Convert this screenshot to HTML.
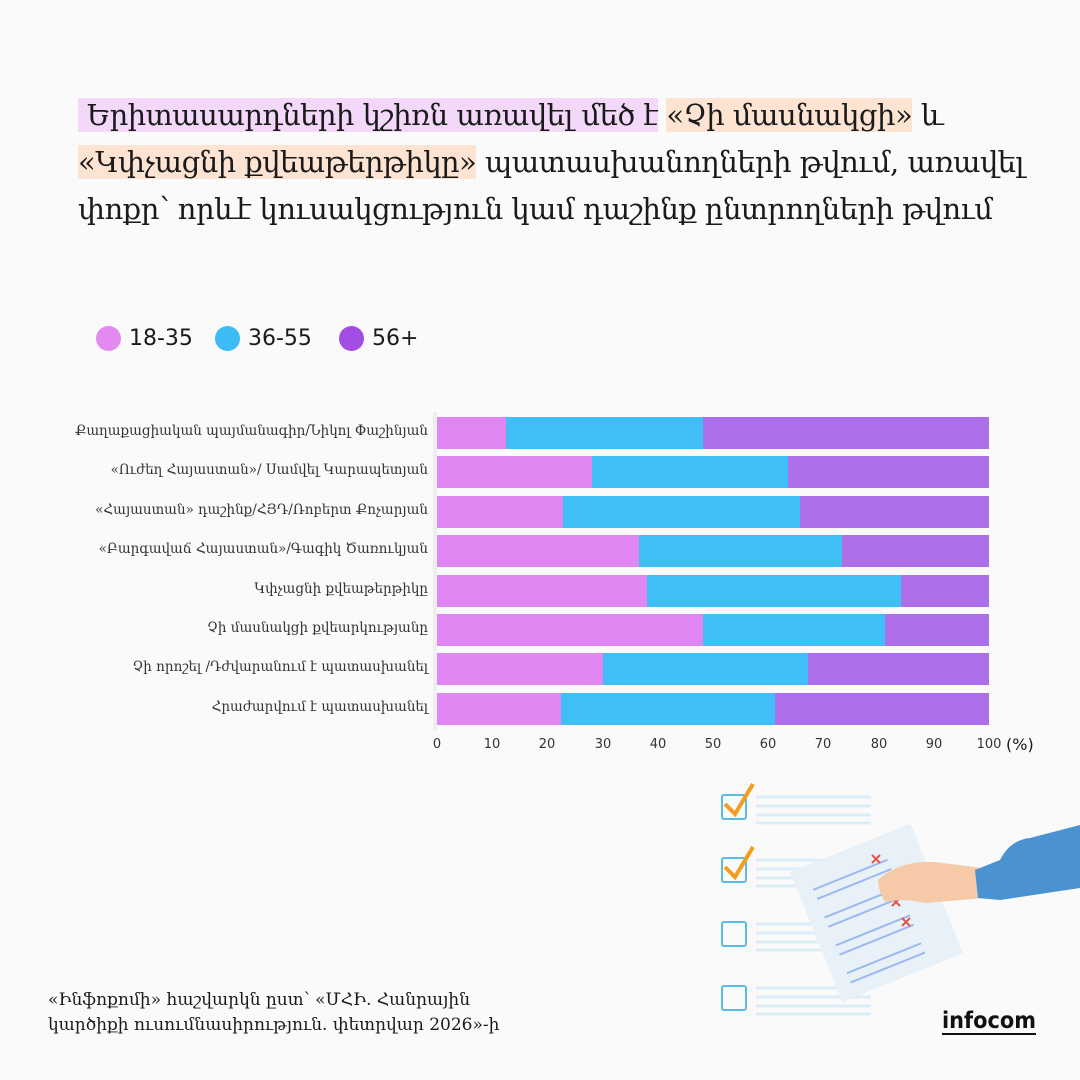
<!DOCTYPE html>
<html><head><meta charset="utf-8"><style>
body{margin:0;width:1080px;height:1080px;background:#fafafa;position:relative;overflow:hidden;font-family:"DejaVu Sans","Liberation Sans",sans-serif;color:#1a1a1a}
.t{position:absolute;left:78px;top:92px;font-size:29px;line-height:47px;width:1000px;font-family:"DejaVu Serif","DejaVu Sans",serif;letter-spacing:-0.5px}
.h1{background:#f3d8fa}.h2{background:#fde4d2}
.lg{position:absolute;top:326px;font-size:22px;display:flex;align-items:center}
.lg i{display:inline-block;width:25px;height:25px;border-radius:50%;margin-right:8px}
.lab{position:absolute;right:652px;font-size:13.5px;color:#333;white-space:nowrap;font-family:"DejaVu Serif",serif}
.bar{position:absolute;height:32px}
.tk{position:absolute;top:737px;font-size:13px;color:#333;transform:translateX(-50%)}
.src{position:absolute;left:48px;top:988px;font-size:17px;line-height:25px;font-family:"DejaVu Serif",serif}
</style></head><body>
<div class="t"><span class="h1">&nbsp;Երիտասարդների կշիռն առավել մեծ է</span> <span class="h2">«Չի մասնակցի»</span> և<br><span class="h2">«Կփչացնի քվեաթերթիկը»</span> պատասխանողների թվում, առավել<br>փոքր՝ որևէ կուսակցություն կամ դաշինք ընտրողների թվում</div>
<div class="lg" style="left:96px"><i style="background:#e38af0"></i>18-35</div>
<div class="lg" style="left:215px"><i style="background:#3dbbf5"></i>36-55</div>
<div class="lg" style="left:339px"><i style="background:#a24de3"></i>56+</div>
<div style="position:absolute;left:433px;top:412px;width:4px;height:318px;background:#eee"></div>
<div id="c"></div>
<div class="tk" style="left:437px">0</div><div class="tk" style="left:492px">10</div><div class="tk" style="left:547px">20</div><div class="tk" style="left:603px">30</div><div class="tk" style="left:658px">40</div><div class="tk" style="left:713px">50</div><div class="tk" style="left:768px">60</div><div class="tk" style="left:823px">70</div><div class="tk" style="left:879px">80</div><div class="tk" style="left:934px">90</div><div class="tk" style="left:989px">100</div>
<div style="position:absolute;left:1006px;top:735px;font-size:16px">(%)</div>
<div class="src">«Ինֆոքոմի» հաշվարկն ըստ՝ «ՄՀԻ. Հանրային<br>կարծիքի ուսումնասիրություն. փետրվար 2026»-ի</div>
<svg style="position:absolute;left:700px;top:770px" width="380" height="300">
<g fill="none" stroke="#5bbbe6" stroke-width="2"><rect x="22" y="25" width="24" height="24" rx="2"/><rect x="22" y="88" width="24" height="24" rx="2"/><rect x="22" y="152" width="24" height="24" rx="2"/><rect x="22" y="216" width="24" height="24" rx="2"/></g>
<g stroke="#f39c1f" stroke-width="4" fill="none"><path d="M25 34l10 10 18-30"/><path d="M25 97l10 10 18-30"/></g>
<g stroke="#dbeef8" stroke-width="3"><path d="M56 27h115M56 36h115M56 45h115M56 53h115M56 90h115M56 99h115M56 108h115M56 116h115M56 154h115M56 163h115M56 172h115M56 180h115M56 218h115M56 227h115M56 236h115M56 244h115"/></g>
<g transform="rotate(-22 170 140)"><rect x="110" y="75" width="130" height="140" fill="#e8f1f8"/><g stroke="#9db8ee" stroke-width="2"><path d="M125 100h80M125 110h80M125 130h80M125 140h80M125 160h80M125 170h80M125 190h80M125 200h80"/></g></g>
<g fill="none" stroke="#e2564a" stroke-width="2"><path d="M172 85l8 8M180 85l-8 8M192 128l8 8M200 128l-8 8M202 148l8 8M210 148l-8 8"/></g>
<path d="M178 110 Q200 90 235 92 L282 98 L285 128 L225 133 Q205 128 185 132 Q178 120 178 110Z" fill="#f6c9a8"/>
<path d="M275 100 L300 90 Q310 70 330 68 L380 55 L380 118 L300 130 L278 128Z" fill="#4a92d0"/>
<text x="242" y="258" font-family="DejaVu Sans,sans-serif" font-size="23" font-weight="bold" fill="#111" textLength="94" lengthAdjust="spacingAndGlyphs">infocom</text>
<path d="M242 264h94" stroke="#111" stroke-width="2"/>
</svg>
<script>
var L=["Քաղաքացիական պայմանագիր/Նիկոլ Փաշինյան","«Ուժեղ Հայաստան»/ Սամվել Կարապետյան","«Հայաստան» դաշինք/ՀՅԴ/Ռոբերտ Քոչարյան","«Բարգավաճ Հայաստան»/Գագիկ Ծառուկյան","Կփչացնի քվեաթերթիկը","Չի մասնակցի քվեարկությանը","Չի որոշել /Դժվարանում է պատասխանել","Հրաժարվում է պատասխանել"];
var B=[[506,703],[592,788],[563,800],[639,842],[647,901],[703,885],[603,808],[561,775]];
var h="";for(var i=0;i<8;i++){var y=417+i*39.4;var b=B[i];
h+='<div class="lab" style="top:'+(y+6)+'px">'+L[i]+'</div>';
h+='<div class="bar" style="left:437px;top:'+y+'px;width:'+(b[0]-437)+'px;background:#df86f2"></div>';
h+='<div class="bar" style="left:'+b[0]+'px;top:'+y+'px;width:'+(b[1]-b[0])+'px;background:#40bff6"></div>';
h+='<div class="bar" style="left:'+b[1]+'px;top:'+y+'px;width:'+(989-b[1])+'px;background:#ad6eea"></div>';}
document.getElementById("c").innerHTML=h;
</script>
</body></html>
